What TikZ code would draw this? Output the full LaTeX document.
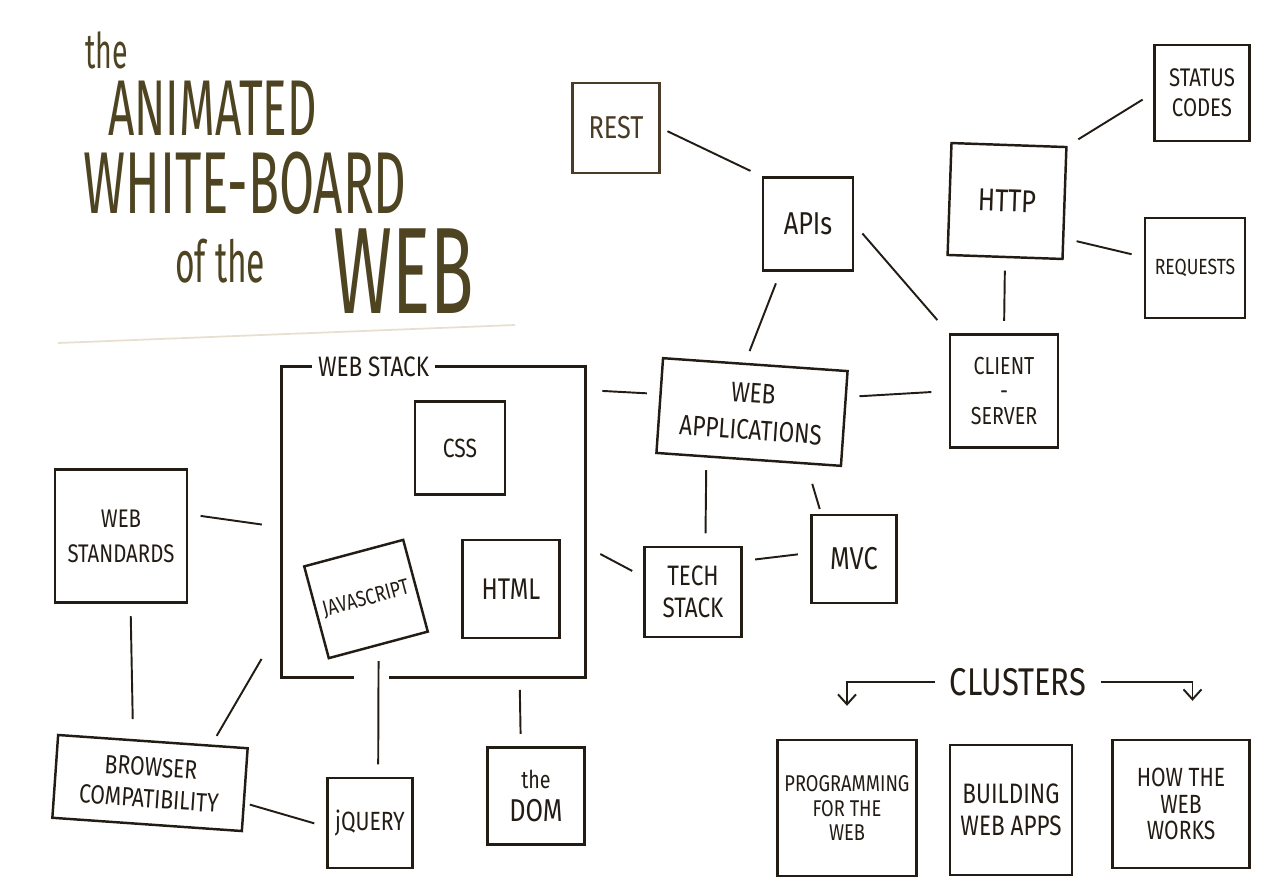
\documentclass[tikz,border=0pt]{standalone}
\usepackage{fontspec}
\setmainfont{Fira Sans}
\newfontfamily\hand[FakeStretch=0.8]{Fira Sans}
\newfontfamily\titlehand[FakeStretch=0.58]{Fira Sans}
\usepackage{xcolor}
\usetikzlibrary{arrows.meta,positioning,calc}

\definecolor{ink}{HTML}{221C14}
\definecolor{sepia}{HTML}{4A3B26}
\definecolor{olive}{HTML}{4E4422}
\definecolor{paperline}{HTML}{E8DFD0}

\begin{document}
\begin{tikzpicture}[
    x=0.02cm, y=-0.02cm,
    note/.style={draw=ink, line width=1.4pt, align=center, text=ink, inner sep=1pt,
                 font=\hand\fontsize{16}{19}\selectfont},
    frame/.style={draw=none, minimum width=6.06cm, minimum height=6.2cm},
    pen/.style={draw=ink, line width=1.4pt},
    link/.style={draw=ink, line width=1.1pt, shorten <=2.5mm, shorten >=2.5mm},
    title/.style={text=olive, inner sep=0pt, anchor=base west},
    cluster/.style={-{Straight Barb[length=2mm, width=3.6mm]}, draw=ink, line width=1.1pt}
]
\useasboundingbox (0,0) rectangle (1279,894);

% title
\node[title, font=\titlehand\fontsize{28}{28}\selectfont] (the) at (85,68) {the};
\node[title, font=\titlehand\fontsize{45}{45}\selectfont] (animated) at (108,135) {ANIMATED};
\node[title, font=\titlehand\fontsize{50}{50}\selectfont] (whiteboard) at (83,213) {WHITE-BOARD};
\node[title, font=\titlehand\fontsize{33}{33}\selectfont] (ofthe) at (175,282) {of the};
\node[title, font=\titlehand\fontsize{70}{70}\selectfont] (web) at (333,313) {WEB};
\draw[paperline, line width=1pt] (58,343) -- (515,325);

% web side
\node[note, minimum width=1.74cm, minimum height=1.8cm, draw=sepia, text=sepia,
      font=\hand\fontsize{18}{19}\selectfont] (rest) at (616,128) {REST};
\node[note, minimum width=1.8cm, minimum height=1.86cm,
      font=\hand\fontsize{18}{19}\selectfont] (apis) at (808,224) {APIs};
\node[note, minimum width=2.3cm, minimum height=2.24cm, rotate=-2,
      font=\hand\fontsize{18}{19}\selectfont] (http) at (1007,201) {HTTP};
\node[note, minimum width=1.9cm, minimum height=1.92cm,
      font=\hand\fontsize{14.5}{17}\selectfont] (status) at (1202,93) {STATUS\\CODES};
\node[note, minimum width=2cm, minimum height=2cm,
      font=\hand\fontsize{12.5}{17}\selectfont] (requests) at (1195,268) {REQUESTS};
\node[note, minimum width=2.16cm, minimum height=2.26cm,
      font=\hand\fontsize{14}{14}\selectfont] (client) at (1004,391) {CLIENT\\-\\SERVER};
\node[note, minimum width=3.7cm, minimum height=1.9cm, rotate=-4,
      font=\hand\fontsize{16}{21}\selectfont] (webapps) at (752,412) {WEB\\APPLICATIONS};
\node[note, minimum width=1.94cm, minimum height=1.8cm,
      font=\hand\fontsize{16}{18}\selectfont] (tech) at (693,592) {TECH\\STACK};
\node[note, minimum width=1.7cm, minimum height=1.76cm,
      font=\hand\fontsize{18}{19}\selectfont] (mvc) at (854,559) {MVC};

% web stack
\node[frame] (stack) at (433.5,522) {};
\node[anchor=west, xshift=0.6cm, inner xsep=0.12cm, text=ink,
      font=\hand\fontsize{16}{19}\selectfont] (stacklbl) at (stack.north west) {WEB STACK};
\node[note, minimum width=1.8cm, minimum height=1.86cm,
      font=\hand\fontsize{15}{19}\selectfont] (css) at (460,448) {CSS};
\node[note, minimum width=2.05cm, minimum height=1.9cm, rotate=15,
      font=\hand\fontsize{12.5}{19}\selectfont] (js) at (366,599) {JAVASCRIPT};
\node[note, minimum width=1.94cm, minimum height=1.96cm,
      font=\hand\fontsize{17}{19}\selectfont] (html) at (511,589) {HTML};
\draw[pen] (stacklbl.west) -- (stack.north west) -- (stack.south west) -- (stack.-117)
    (stack.-106) -- (stack.south east) -- (stack.north east) -- (stacklbl.east);

% browser side
\node[note, minimum width=2.64cm, minimum height=2.66cm,
      font=\hand\fontsize{14.5}{20}\selectfont] (standards) at (121,536) {WEB\\STANDARDS};
\node[note, minimum width=3.8cm, minimum height=1.66cm, rotate=-4,
      font=\hand\fontsize{15}{18}\selectfont] (browser) at (150,783) {BROWSER\\COMPATIBILITY};
\node[note, minimum width=1.7cm, minimum height=1.8cm,
      font=\hand\fontsize{15}{19}\selectfont] (jquery) at (370,823) {jQUERY};
\node[note, minimum width=1.94cm, minimum height=1.94cm,
      font=\hand\fontsize{18}{19}\selectfont] (dom) at (536,796) {{\fontsize{14}{14}\selectfont the}\\DOM};

% clusters
\node[text=ink, inner xsep=0.3cm, font=\hand\fontsize{22}{22}\selectfont] (clusters) at (1018,682) {CLUSTERS};
\node[note, minimum width=2.78cm, minimum height=2.72cm,
      font=\hand\fontsize{13}{14}\selectfont] (prog) at (847,808) {PROGRAMMING\\FOR THE\\WEB};
\node[note, minimum width=2.44cm, minimum height=2.6cm,
      font=\hand\fontsize{16}{18}\selectfont] (build) at (1011,810) {BUILDING\\WEB APPS};
\node[note, minimum width=2.74cm, minimum height=2.56cm,
      font=\hand\fontsize{15}{15}\selectfont] (how) at (1181,804) {HOW THE\\WEB\\WORKS};

% connectors
\draw[link, shorten <=1.5mm] (rest.east) -- (apis.north west);
\draw[link, shorten >=3.5mm] (apis.east) -- (client.north west);
\draw[link] (apis.240) -- (webapps.102);
\draw[link] (http.north east) -- (status.west);
\draw[link] (http.-31) -- (requests.168);
\draw[link] (http.south) -- (client.north);
\draw[link, shorten >=3.5mm] (webapps.13) -- (client.west);
\draw[link, shorten <=3.4mm] (stack.41) -- (webapps.173);
\draw[link] (webapps.229) -- (tech.75);
\draw[link, shorten <=4mm, shorten >=1mm] (webapps.-40) -- (mvc.126);
\draw[link, shorten <=3.4mm] (stack.-9) -- (tech.163);
\draw[link] (tech.32) -- (mvc.172);
\draw[link, shorten >=4mm] (standards.18) -- (stack.182);
\draw[link, shorten >=4mm] (standards.-82) -- (browser.115);
\draw[link, shorten <=2mm, shorten >=8mm] (browser.36) -- (stack.214);
\draw[link, shorten <=1mm] (browser.-8) -- (jquery.185);
\draw[link, shorten <=3mm] (js.south) -- (jquery.80);
\draw[link] (stack.-61) -- (dom.107);
\draw[cluster, shorten >=6.6mm] (clusters.west) -| (prog.north);
\draw[cluster, shorten >=7.6mm] (clusters.east) -| (how.80);
\end{tikzpicture}
\end{document}
